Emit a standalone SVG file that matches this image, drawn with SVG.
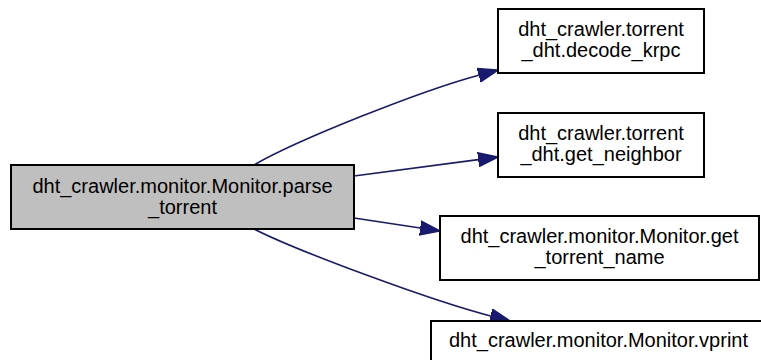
<svg xmlns="http://www.w3.org/2000/svg" width="761" height="360" viewBox="0 0 761 360">
<style>
.box{fill:#ffffff;stroke:#000000;stroke-width:2}
.main{fill:#bfbfbf;stroke:#000000;stroke-width:2}
.lbl{font-family:"Liberation Sans",Arial,sans-serif;font-size:20px;fill:#000000;text-anchor:middle}
.edge{fill:none;stroke:#191970;stroke-width:1.6}
</style>
<defs>
<marker id="arr" markerUnits="userSpaceOnUse" markerWidth="22" markerHeight="16" viewBox="0 -8 22 16" refX="0" refY="0" orient="auto">
<path d="M0,-7 L20,0 L0,7 Z" fill="#191970" stroke="#191970" stroke-width="1.5"/>
</marker>
</defs>
<rect width="761" height="360" fill="#ffffff"/>
<g id="connectors">
<path class="edge" d="M254,165 C297,140 420.8,90.8 478.7,75.2" marker-end="url(#arr)"/>
<path class="edge" d="M354,176 L478.2,159.6" marker-end="url(#arr)"/>
<path class="edge" d="M354,218 L420.2,228" marker-end="url(#arr)"/>
<path class="edge" d="M254,229 C298.5,251.5 432.4,301 490.6,316" marker-end="url(#arr)"/>
</g>
<g id="node-parse_torrent">
<rect class="main" x="11" y="165" width="343" height="64"/>
<text class="lbl" x="182.5" y="193">dht_crawler.monitor.Monitor.parse</text>
<text class="lbl" x="182.5" y="214">_torrent</text>
</g>
<g id="node-decode_krpc">
<rect class="box" x="498" y="9" width="206" height="64"/>
<text class="lbl" x="601" y="36">dht_crawler.torrent</text>
<text class="lbl" x="601" y="57">_dht.decode_krpc</text>
</g>
<g id="node-get_neighbor">
<rect class="box" x="498" y="113" width="206" height="64"/>
<text class="lbl" x="601" y="140">dht_crawler.torrent</text>
<text class="lbl" x="601" y="161">_dht.get_neighbor</text>
</g>
<g id="node-get_torrent_name">
<rect class="box" x="440" y="216" width="319" height="64"/>
<text class="lbl" x="599.5" y="243">dht_crawler.monitor.Monitor.get</text>
<text class="lbl" x="599.5" y="264">_torrent_name</text>
</g>
<g id="node-vprint">
<rect class="box" x="431" y="321" width="335" height="45"/>
<text class="lbl" x="598.5" y="347">dht_crawler.monitor.Monitor.vprint</text>
</g>
</svg>
